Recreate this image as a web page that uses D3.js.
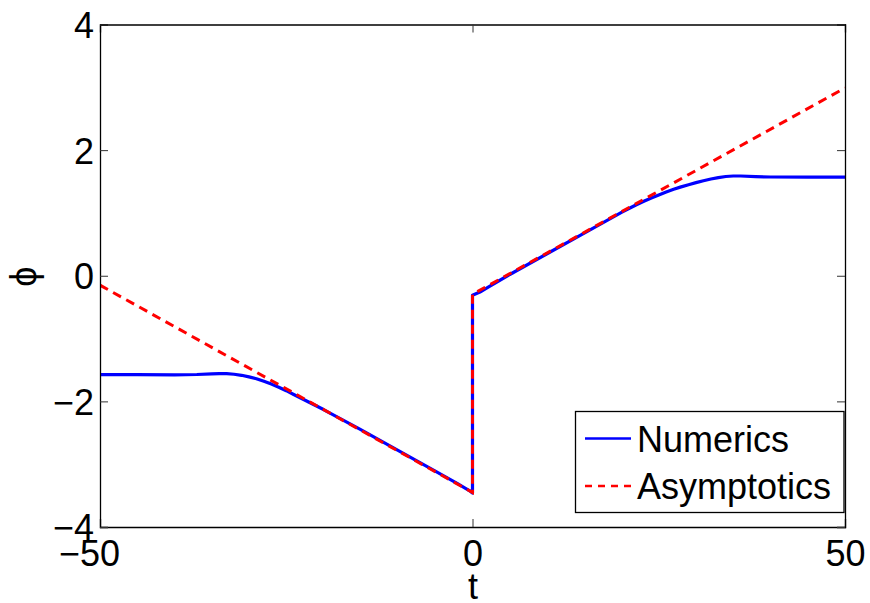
<!DOCTYPE html>
<html><head><meta charset="utf-8">
<script src="https://cdn.jsdelivr.net/npm/d3@7"></script>
<style>
html,body{margin:0;padding:0;background:#fff;}
text{font-family:"Liberation Sans",Arial,Helvetica,sans-serif;}
</style></head>
<body><svg id="c" width="870" height="603"></svg>
<script>
// ---- data ----
const numericsT = [-50,-45,-40,-37,-35,-34,-33,-32,-31,-30,-29,-28,-27,-26,-25,-24,-23,-22,-21,-20,-15,-10,-5,-2,-1,-0.3,0,0,0.3,1,2,5,10,15,20,21,22,23,24,25,26,27,28,29,30,31,32,33,34,35,36,38,40,45,50];
const numericsV = [-1.575,-1.575,-1.578,-1.572,-1.562,-1.557,-1.559,-1.568,-1.585,-1.61,-1.64,-1.68,-1.725,-1.775,-1.83,-1.89,-1.95,-2.01,-2.07,-2.13,-2.45,-2.78,-3.11,-3.31,-3.38,-3.43,-3.46,-0.31,-0.295,-0.26,-0.19,0.02,0.35,0.68,1.01,1.07,1.13,1.185,1.238,1.287,1.333,1.376,1.415,1.45,1.482,1.512,1.54,1.563,1.58,1.588,1.588,1.578,1.572,1.571,1.571];
const asymT = [-50, 0, 0, 50];
const asymV = [-0.15, -3.45, -0.295, 2.99];
const xTicks = [-50, 0, 50];
const yTicks = [-4, -2, 0, 2, 4];
const legendLabels = ["Numerics", "Asymptotics"];
const xLabel = "t";
const yLabel = "\u03D5";

// ---- drawing ----
const svg = d3.select("#c");
const L = 100, R = 845, T = 24.5, B = 527;
const x = d3.scaleLinear().domain([-50, 50]).range([L, R]);
const y = d3.scaleLinear().domain([-4, 4]).range([B, T]);
const fmt = v => (v < 0 ? "\u2212" + Math.abs(v) : String(v));

const clipId = "clip";
svg.append("clipPath").attr("id", clipId).append("rect")
  .attr("x", L).attr("y", T).attr("width", R - L).attr("height", B - T);

const line = d3.line().x(d => x(d[0])).y(d => y(d[1]));
const g = svg.append("g").attr("clip-path", `url(#${clipId})`);
g.append("path").datum(numericsT.map((t, i) => [t, numericsV[i]]))
  .attr("d", line).attr("fill", "none").attr("stroke", "#0000ff")
  .attr("stroke-width", 3.2).attr("stroke-linejoin", "round");
g.append("path").datum(asymT.map((t, i) => [t, asymV[i]]))
  .attr("d", line).attr("fill", "none").attr("stroke", "#ff0000")
  .attr("stroke-width", 3).attr("stroke-dasharray", "9,6");

// axes (bottom/left with labels, top/right ticks only)
const tickLen = 8;
const axB = svg.append("g").attr("transform", `translate(0,${B})`)
  .call(d3.axisBottom(x).tickValues(xTicks).tickSize(-tickLen).tickPadding(14).tickFormat(fmt));
const axT = svg.append("g").attr("transform", `translate(0,${T})`)
  .call(d3.axisTop(x).tickValues(xTicks).tickSize(-tickLen).tickFormat(""));
const axL = svg.append("g").attr("transform", `translate(${L},0)`)
  .call(d3.axisLeft(y).tickValues(yTicks).tickSize(-tickLen).tickPadding(6).tickFormat(fmt));
const axR = svg.append("g").attr("transform", `translate(${R},0)`)
  .call(d3.axisRight(y).tickValues(yTicks).tickSize(-tickLen).tickFormat(""));
[axB, axT, axL, axR].forEach(a => {
  a.select(".domain").attr("stroke", "#000").attr("stroke-width", 1.3);
  a.selectAll(".tick line").attr("stroke", "#333").attr("stroke-width", 1);
  a.selectAll("text").attr("font-size", 36).attr("fill", "#000")
    .attr("font-family", "'Liberation Sans', Arial, sans-serif");
});
axB.selectAll(".tick text").attr("dy", null).attr("y", 39)
  .attr("dx", d => (d < 0 ? -11 : 0));
axL.selectAll(".tick text").attr("dy", "0.36em").attr("x", -6);

// axis labels
svg.append("text").attr("x", (L + R) / 2 + 0.5).attr("y", 599)
  .attr("text-anchor", "middle").attr("font-size", 36).text(xLabel);
svg.append("text").attr("transform", `translate(36,${y(0) + 1}) rotate(-90)`)
  .attr("text-anchor", "middle").attr("font-size", 36).text(yLabel);

// legend
const lg = svg.append("g");
lg.append("rect").attr("x", 575.5).attr("y", 411.5).attr("width", 268.5).attr("height", 101)
  .attr("fill", "#fff").attr("stroke", "#000").attr("stroke-width", 1.3);
const rows = [
  {label: legendLabels[0], color: "#0000ff", dash: null, cy: 438.5, by: 452},
  {label: legendLabels[1], color: "#ff0000", dash: "7,6", cy: 486, by: 499}
];
rows.forEach(r => {
  lg.append("line").attr("x1", 585).attr("x2", 631).attr("y1", r.cy).attr("y2", r.cy)
    .attr("stroke", r.color).attr("stroke-width", 2.4).attr("stroke-dasharray", r.dash);
  lg.append("text").attr("x", 637).attr("y", r.by).attr("font-size", 36).text(r.label);
});
</script></body></html>
